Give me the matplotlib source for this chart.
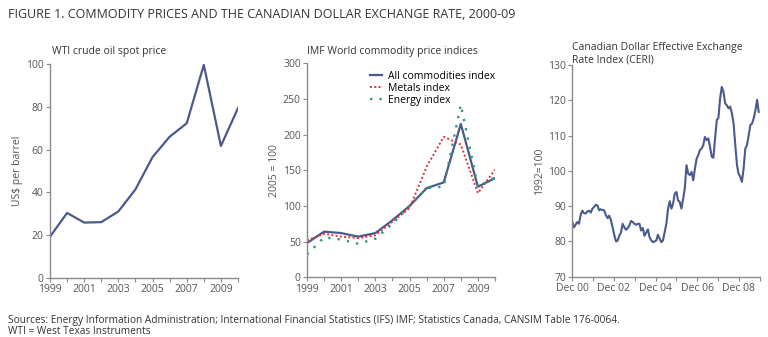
import matplotlib.pyplot as plt
import pandas as pd

years = list(range(1999, 2011))
wti = [19.3, 30.4, 25.9, 26.1, 31.1, 41.4, 56.5, 66.0, 72.3, 99.6, 61.7, 79.4]

all_commod = [48, 64, 62, 57, 62, 80, 100, 125, 133, 215, 127, 139]
metals = [52, 61, 57, 55, 59, 78, 97, 155, 197, 186, 118, 151]
energy = [32, 56, 53, 47, 54, 75, 100, 125, 127, 242, 127, 140]

# CERI, monthly from Dec 2000
ceri = [85.5, 84.0, 84.8, 85.5, 85.0, 87.5, 88.7, 88.0, 87.9, 88.5, 88.7, 88.2,
        89.3, 89.8, 90.4, 90.2, 88.8, 89.1, 88.9, 88.8, 87.5, 86.6, 87.3, 86.0,
        84.0, 81.8, 80.0, 80.2, 81.6, 82.5, 85.0, 84.0, 83.3, 83.8, 84.5, 85.8,
        85.5, 85.0, 84.7, 85.0, 85.0, 83.1, 83.8, 81.6, 82.5, 83.4, 81.2, 80.3,
        79.8, 80.0, 80.3, 81.9, 80.8, 79.8, 80.3, 82.6, 85.0, 89.3, 91.4, 89.3,
        90.7, 93.6, 94.0, 91.6, 91.2, 89.3, 92.1, 95.0, 101.6, 99.2, 98.8, 99.7,
        97.3, 100.7, 103.5, 104.4, 105.9, 106.3, 107.3, 109.6, 108.7, 109.2, 106.8, 104.0,
        103.7, 109.2, 114.4, 115.0, 120.5, 123.8, 122.4, 119.1, 118.6, 117.7, 118.2, 116.3,
        113.4, 107.3, 101.6, 99.2, 98.3, 96.9, 100.7, 106.3, 107.3, 110.1, 113.0, 113.4,
        114.9, 117.2, 120.1, 116.7]
ceri_dates = pd.date_range("2000-12-01", periods=len(ceri), freq="MS")
# the exported series runs a touch past the year ticks; squeeze it onto Dec 00 - Dec 09
ceri_dates = ceri_dates[0] + (ceri_dates - ceri_dates[0]) * (108 / (len(ceri) - 1) * 0.995)
ceri_ticks = pd.date_range("2000-12-01", periods=10, freq="12MS")
ceri_ticklabels = ["Dec 00", "", "Dec 02", "", "Dec 04", "", "Dec 06", "", "Dec 08", ""]

plt.rcParams["font.family"] = "Open Sans"

BLUE = "#4a5a8c"
RED = "#e0303c"
GREEN = "#2e9a78"
GREY = "#555555"
SPINE = "#8a8a8a"

fig = plt.figure(figsize=(7.68, 3.37), dpi=100)


def style(ax):
    for s in ["top", "right"]:
        ax.spines[s].set_visible(False)
    for s in ["left", "bottom"]:
        ax.spines[s].set_color(SPINE)
        ax.spines[s].set_linewidth(1.0)
    ax.tick_params(direction="out", length=3, width=0.8, color=SPINE,
                   labelsize=7.5, labelcolor=GREY, pad=1.5)


def year_axis(ax):
    ax.set_xlim(1999, 2010)
    ax.set_xticks(years)
    ax.set_xticklabels([str(y) if y % 2 == 1 else "" for y in years])


ax1 = fig.add_axes([50 / 768, 59 / 337, 188 / 768, 214 / 337])
ax1.plot(years, wti, color=BLUE, lw=1.6)
year_axis(ax1)
ax1.set_ylim(0, 100)
ax1.set_yticks([0, 20, 40, 60, 80, 100])
ax1.set_ylabel("US$ per barrel", fontsize=7.5, color=GREY, labelpad=2)
ax1.set_title("WTI crude oil spot price", fontsize=7.5, color="#333333", loc="left", x=0.01, pad=7)
style(ax1)

ax2 = fig.add_axes([307 / 768, 59.7 / 337, 188 / 768, 214 / 337])
ax2.plot(years, all_commod, color=BLUE, lw=1.6, label="All commodities index")
ax2.plot(years, metals, color=RED, lw=1.4, ls=(0, (1, 1.2)), label="Metals index")
ax2.plot(years, energy, color=GREEN, lw=1.7, ls=(0, (1, 3)), label="Energy index")
year_axis(ax2)
ax2.set_ylim(0, 300)
ax2.set_yticks([0, 50, 100, 150, 200, 250, 300])
ax2.set_ylabel("2005 = 100", fontsize=7.5, color=GREY, labelpad=2)
ax2.set_title("IMF World commodity price indices", fontsize=7.5, color="#333333", loc="left", x=0.0, pad=7)
ax2.legend(loc="upper right", bbox_to_anchor=(1.04, 1.0), frameon=False, fontsize=7.5,
           handlelength=1.1, handletextpad=0.6, labelspacing=0.12, borderpad=0.2)
style(ax2)

ax3 = fig.add_axes([572.3 / 768, 60.3 / 337, 187.4 / 768, 211.7 / 337])
ax3.plot(ceri_dates, ceri, color=BLUE, lw=1.5)
ax3.set_xlim(ceri_ticks[0], ceri_ticks[-1])
ax3.set_xticks(ceri_ticks)
ax3.set_xticklabels(ceri_ticklabels)
ax3.set_ylim(70, 130)
ax3.set_yticks([70, 80, 90, 100, 110, 120, 130])
ax3.set_ylabel("1992=100", fontsize=7.5, color=GREY, labelpad=2)
ax3.set_title("Canadian Dollar Effective Exchange\nRate Index (CERI)", fontsize=7.5, color="#333333",
              loc="left", x=0.0, pad=2, linespacing=1.1)
style(ax3)

fig.text(8 / 768, 1 - 15 / 337, "FIGURE 1. COMMODITY PRICES AND THE CANADIAN DOLLAR EXCHANGE RATE, 2000-09",
         fontsize=9, color="#333333", va="center", ha="left")
fig.text(8 / 768, 1 - 320 / 337,
         "Sources: Energy Information Administration; International Financial Statistics (IFS) IMF; "
         "Statistics Canada, CANSIM Table 176-0064.",
         fontsize=7.3, color="#333333", va="center", ha="left")
fig.text(8 / 768, 1 - 331 / 337, "WTI = West Texas Instruments",
         fontsize=7.3, color="#333333", va="center", ha="left")

fig.savefig("out.png", dpi=100)
